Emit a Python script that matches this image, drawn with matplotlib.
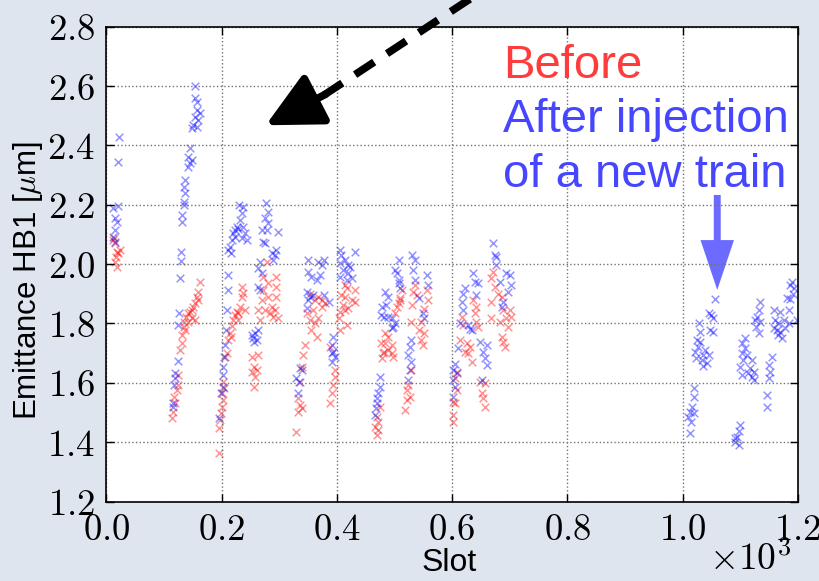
import matplotlib
matplotlib.use('Agg')
import matplotlib.pyplot as plt
from matplotlib.ticker import FuncFormatter, MultipleLocator

plt.rcParams['mathtext.fontset'] = 'cm'
plt.rcParams['font.family'] = ['Liberation Sans', 'DejaVu Sans']

# Emittance per bunch slot, before the injection
before_slot = [13, 15, 18, 21, 17, 15, 18, 11, 23,
               114, 116, 119, 118, 122, 125, 124, 128, 132, 132, 134, 135, 139, 142, 145, 148,
               151, 154, 157, 160, 163, 154, 148, 142, 136, 160,
               195, 195, 197, 199, 200, 203, 201, 205, 203, 206, 209, 212, 214, 218, 220, 223,
               226, 229, 232, 235, 238, 235, 229, 241, 216,
               252, 257, 261, 252, 258, 257, 264, 279, 272, 281, 295, 295, 270, 281, 287, 292,
               295, 284, 290, 275, 264, 267, 298, 272,
               330, 333, 336, 333, 339, 336, 339, 342, 345,
               353, 368, 374, 379, 362, 348, 353, 362, 356, 365, 359, 368, 374,
               388, 397, 393, 391, 388, 397, 405,
               414, 417, 431, 408, 414, 426, 431, 411, 420, 406, 403, 417, 414,
               475, 469, 472, 466, 472, 469,
               483, 489, 483, 495, 481, 489, 498, 478, 510, 513, 510, 504, 501, 507, 477, 495, 480,
               529, 524, 521, 527, 521, 519,
               533, 539, 531, 556, 558, 546, 543, 551, 546, 549, 529, 536, 552,
               608, 605, 608, 602, 605, 602, 601,
               637, 642, 640, 642, 645, 617, 619, 614, 625, 631, 622, 634, 628,
               657, 651, 654, 657, 649,
               671, 668, 674, 680, 686, 668, 688, 700, 694, 702, 683, 697, 668, 686, 691, 688]
before_emit = [2.087, 2.070, 2.042, 2.036, 2.025, 2.008, 1.990, 2.080, 2.048,
               1.480, 1.503, 1.531, 1.553, 1.576, 1.593, 1.626, 1.710, 1.733, 1.761, 1.789, 1.806,
               1.823, 1.834, 1.840, 1.846, 1.857, 1.868, 1.890, 1.907, 1.941, 1.812, 1.817, 1.806,
               1.778, 1.879,
               1.363, 1.447, 1.475, 1.497, 1.520, 1.542, 1.565, 1.582, 1.604, 1.688, 1.700, 1.745,
               1.767, 1.790, 1.812, 1.829, 1.840, 1.834, 1.857, 1.890, 1.902, 1.924, 1.812, 1.846,
               1.756,
               1.688, 1.654, 1.643, 1.638, 1.621, 1.587, 1.694, 2.008, 1.958, 1.935, 1.958, 1.924,
               1.879, 1.890, 1.857, 1.846, 1.890, 1.834, 1.823, 1.846, 1.846, 1.812, 1.817, 1.913,
               1.435, 1.503, 1.525, 1.548, 1.514, 1.604, 1.654, 1.694, 1.727,
               1.901, 1.890, 1.879, 1.868, 1.879, 1.834, 1.812, 1.800, 1.778, 1.755, 1.845, 1.817,
               1.857,
               1.722, 1.643, 1.593, 1.565, 1.531, 1.620, 1.778,
               1.929, 1.918, 1.913, 1.896, 1.890, 1.879, 1.873, 1.862, 1.851, 1.840, 1.817, 1.795,
               1.845,
               1.520, 1.486, 1.469, 1.452, 1.441, 1.424,
               1.767, 1.755, 1.733, 1.727, 1.705, 1.710, 1.688, 1.682, 1.879, 1.913, 1.885, 1.857,
               1.834, 1.868, 1.733, 1.700, 1.700,
               1.643, 1.593, 1.576, 1.553, 1.542, 1.508,
               1.907, 1.896, 1.862, 1.913, 1.879, 1.806, 1.778, 1.767, 1.744, 1.727, 1.806, 1.930,
               1.850,
               1.638, 1.615, 1.576, 1.537, 1.531, 1.492, 1.469,
               1.879, 1.857, 1.834, 1.806, 1.789, 1.823, 1.795, 1.744, 1.733, 1.722, 1.705, 1.671,
               1.700,
               1.598, 1.565, 1.548, 1.520, 1.604,
               1.974, 1.952, 1.924, 1.901, 1.890, 1.873, 1.845, 1.845, 1.817, 1.823, 1.806, 1.789,
               1.817, 1.755, 1.722, 1.738]

# Emittance per bunch slot, after a new train was injected
after_slot = [22, 21, 12, 21, 15, 18, 15, 12, 15,
              154, 154, 157, 157, 163, 154, 160, 151, 148, 157, 145, 142, 148, 141, 145, 137,
              135, 137, 134, 135, 132, 132, 130, 130, 128, 127, 124, 124, 120, 119, 118, 116, 115,
              195, 199, 202, 203, 202, 205, 206, 208, 209, 211, 211, 212, 215, 218, 220, 223,
              226, 229, 232, 235, 230, 238, 241, 244, 238, 223, 216, 235,
              252, 258, 261, 255, 263, 257, 277, 281, 276, 281, 279, 270, 272, 275, 287, 292,
              295, 290, 298, 267, 264, 270, 263, 267,
              333, 330, 335, 336, 339,
              350, 368, 377, 374, 350, 356, 365, 371, 348, 353, 359, 350, 348, 386, 377,
              393, 391, 391, 397, 391, 393,
              406, 408, 414, 406, 420, 422, 411, 420, 426, 431, 417, 406,
              475, 475, 472, 469, 468, 466, 470,
              483, 489, 478, 486, 481, 489, 495, 501, 495, 507, 504, 507, 501, 507, 510, 477, 498,
              529, 527, 524, 529, 527, 524,
              531, 536, 533, 536, 556, 558, 543, 549, 551,
              605, 602, 608, 602, 605, 602,
              622, 619, 637, 640, 645, 642, 617, 619, 614, 631, 628, 634, 611,
              649, 660, 654, 657, 660, 651,
              671, 674, 677, 677, 694, 700, 683, 697, 702, 688, 686,
              1019, 1020, 1016, 1013, 1019, 1010, 1014, 1012,
              1029, 1030, 1025, 1030, 1027, 1021, 1039, 1036, 1045, 1024, 1033, 1036, 1042,
              1056, 1045, 1050, 1053, 1047, 1052,
              1100, 1097, 1094, 1091, 1097, 1091,
              1108, 1103, 1108, 1103, 1111, 1105, 1120, 1100, 1117, 1123, 1114, 1120, 1103, 1123,
              1135, 1132, 1129, 1126, 1135, 1127, 1132,
              1155, 1149, 1152, 1149, 1147, 1146,
              1158, 1169, 1161, 1166, 1175, 1158, 1164, 1169, 1178, 1172, 1166, 1184, 1181, 1187,
              1184, 1198, 1190, 1193, 1191, 1187]
after_emit = [2.430, 2.345, 2.188, 2.196, 2.154, 2.143, 2.115, 2.093, 2.076,
              2.601, 2.559, 2.547, 2.519, 2.508, 2.497, 2.486, 2.469, 2.458, 2.463, 2.390, 2.362,
              2.351, 2.328, 2.340, 2.283, 2.261, 2.239, 2.210, 2.199, 2.166, 2.143, 2.042, 2.012,
              1.952, 1.834, 1.795, 1.672, 1.632, 1.615, 1.593, 1.531, 1.520,
              1.480, 1.565, 1.587, 1.626, 1.654, 1.688, 1.728, 1.778, 1.846, 1.913, 1.963, 2.048,
              2.059, 2.081, 2.104, 2.115, 2.126, 2.120, 2.149, 2.171, 2.199, 2.194, 2.104, 2.081,
              2.126, 2.093, 2.036, 2.087,
              1.761, 1.767, 1.745, 1.750, 1.778, 1.739, 2.205, 2.177, 2.154, 2.137, 2.115, 2.115,
              2.076, 2.070, 2.036, 2.031, 2.048, 2.014, 2.107, 2.008, 1.986, 1.969, 1.924, 1.913,
              1.565, 1.615, 1.604, 1.649, 1.643,
              2.014, 2.008, 2.014, 1.997, 1.975, 1.957, 1.946, 1.963, 1.907, 1.890, 1.896, 1.879,
              1.851, 1.873, 1.896,
              1.755, 1.727, 1.700, 1.688, 1.671, 1.705,
              2.047, 2.031, 2.014, 2.003, 1.997, 1.991, 1.980, 1.969, 1.952, 2.042, 1.946, 1.957,
              1.620, 1.587, 1.565, 1.548, 1.514, 1.492, 1.531,
              1.907, 1.890, 1.857, 1.862, 1.823, 1.823, 1.817, 1.800, 1.784, 2.014, 1.969, 1.946,
              1.980, 1.935, 1.918, 1.828, 1.789,
              1.744, 1.722, 1.694, 1.671, 1.643, 1.610,
              2.030, 2.014, 1.980, 1.946, 1.963, 1.930, 1.885, 1.834, 1.817,
              1.665, 1.643, 1.632, 1.610, 1.587, 1.553,
              1.918, 1.901, 1.969, 1.941, 1.935, 1.896, 1.873, 1.845, 1.800, 1.783, 1.795, 1.778,
              1.716,
              1.738, 1.727, 1.705, 1.682, 1.660, 1.610,
              2.070, 2.031, 2.025, 1.997, 1.969, 1.963, 1.941, 1.907, 1.930, 1.873, 1.857,
              1.581, 1.553, 1.520, 1.503, 1.497, 1.486, 1.469, 1.430,
              1.800, 1.772, 1.744, 1.739, 1.722, 1.705, 1.711, 1.694, 1.694, 1.683, 1.677, 1.655,
              1.666,
              1.881, 1.834, 1.829, 1.817, 1.778, 1.772,
              1.458, 1.436, 1.419, 1.402, 1.390, 1.413,
              1.750, 1.733, 1.716, 1.699, 1.694, 1.677, 1.677, 1.654, 1.649, 1.638, 1.632, 1.621,
              1.626, 1.609,
              1.873, 1.845, 1.823, 1.812, 1.806, 1.789, 1.767,
              1.688, 1.660, 1.638, 1.615, 1.559, 1.520,
              1.845, 1.840, 1.812, 1.800, 1.812, 1.784, 1.778, 1.772, 1.784, 1.750, 1.761, 1.845,
              1.885, 1.881, 1.800, 1.812, 1.941, 1.918, 1.901, 1.930]

fig = plt.figure(figsize=(8.2, 5.81), dpi=100, facecolor='#dfe5ef')
ax = fig.add_axes([0.1296, 0.1368, 0.8435, 0.8172])

ax.scatter(before_slot, before_emit, marker='x', s=30, color='red', alpha=0.42, linewidths=1.1)
ax.scatter(after_slot, after_emit, marker='x', s=30, color='blue', alpha=0.42, linewidths=1.1)

ax.set_xlim(0, 1200)
ax.set_ylim(1.2, 2.8)
ax.xaxis.set_major_locator(MultipleLocator(200))
ax.yaxis.set_major_locator(MultipleLocator(0.2))
ax.xaxis.set_major_formatter(FuncFormatter(lambda v, p: r'$%.1f$' % (v / 1000)))
ax.yaxis.set_major_formatter(FuncFormatter(lambda v, p: r'$%.1f$' % v))
ax.tick_params(direction='in', top=True, right=True, length=6, width=1,
               labelsize=26.5, pad=8)
ax.grid(True, linestyle=':', color='0.45', linewidth=1)
for s in ax.spines.values():
    s.set_linewidth(1.2)

# Axis titles and the x scale factor
fig.text(449 / 820, 1 - 563 / 581, 'Slot', fontsize=23, ha='center', va='center')
fig.text(28 / 820, 1 - 280 / 581, r'Emittance HB1 [$\mu$m]', fontsize=22.5,
         rotation=90, ha='center', va='center')
fig.text(750 / 820, 1 - 560 / 581, r'$\times10^{3}$', fontsize=27, ha='center', va='center')

# Legend-style annotations
ax.text(688, 2.627, 'Before', color='#ff3c3c', fontsize=34, va='baseline')
ax.text(688, 2.445, 'After injection', color='#4646ff', fontsize=34, va='baseline')
ax.text(688, 2.260, 'of a new train', color='#4646ff', fontsize=34, va='baseline')

# Blue arrow pointing at the newly injected train
ax.arrow(1060, 2.233, 0, -0.32 + 0.168, width=12, head_width=58, head_length=0.168,
         length_includes_head=False, color='#6b6bff', linewidth=0)

# Thick dashed black arrow entering from above the axes
ax.plot([636, 378], [2.90, 2.570], color='black', lw=5.5, dashes=(3.0, 2.0),
        dash_capstyle='butt', clip_on=False)
ax.annotate('', xy=(276.6, 2.468), xytext=(380, 2.572), annotation_clip=False,
            arrowprops=dict(arrowstyle='-|>,head_length=1.7,head_width=0.85', lw=5.5,
                            color='black', mutation_scale=20, shrinkA=0, shrinkB=0))

fig.savefig('out.png', dpi=100, facecolor=fig.get_facecolor())
